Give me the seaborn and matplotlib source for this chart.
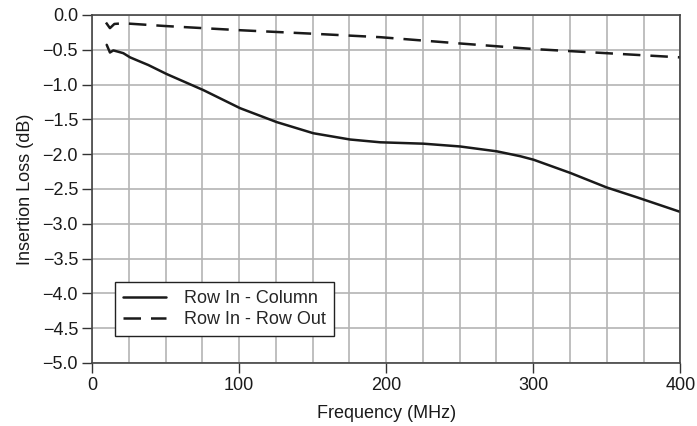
import numpy as np
import pandas as pd
import matplotlib
matplotlib.use("Agg")
import matplotlib.pyplot as plt
import seaborn as sns

col_freq = [10, 12.2, 14.5, 18, 21.3, 25.9, 31.5, 38.3, 50.8, 75.7, 100.7, 125.6, 150.5, 175.5,
            196, 225.4, 250.3, 275.3, 291.2, 300.2, 325.2, 350.1, 370.5, 400]
col_loss = [-0.43, -0.54, -0.51, -0.53, -0.55, -0.61, -0.66, -0.72, -0.85, -1.08, -1.34, -1.54,
            -1.70, -1.79, -1.83, -1.85, -1.89, -1.96, -2.03, -2.08, -2.27, -2.48, -2.62, -2.83]

row_freq = [9.5, 12.2, 15.2, 21.3, 50, 100.7, 150, 196, 250, 300, 350, 400]
row_loss = [-0.11, -0.19, -0.13, -0.12, -0.16, -0.22, -0.27, -0.32, -0.41, -0.49, -0.55, -0.61]

labels = ["Row In - Column", "Row In - Row Out"]

sns.set_style("white", {"xtick.bottom": True, "ytick.left": True})
plt.rcParams['font.family'] = ['Liberation Sans', 'DejaVu Sans']

fig, ax = plt.subplots(figsize=(6.97, 4.26), dpi=100)
fig.subplots_adjust(left=0.132, right=0.976, top=0.965, bottom=0.148)

df1 = pd.DataFrame({"f": col_freq, "l": col_loss})
df2 = pd.DataFrame({"f": row_freq, "l": row_loss})
sns.lineplot(data=df1, x="f", y="l", ax=ax, color="#1a1a1a", lw=1.8, label=labels[0])
sns.lineplot(data=df2, x="f", y="l", ax=ax, color="#1a1a1a", lw=1.8, label=labels[1],
             dashes=False)
ax.lines[1].set_dashes([7, 4])

ax.set_xlim(0, 400)
ax.set_ylim(-5.0, 0.0)
ax.set_xticks([0, 100, 200, 300, 400])
ax.set_xticks(np.arange(0, 401, 25), minor=True)
ax.set_yticks(np.arange(-5.0, 0.01, 0.5))
ax.set_yticklabels([f"{v:.1f}".replace("-", "\u2212") for v in np.arange(-5.0, 0.01, 0.5)])
ax.grid(True, which="both", color="#b4b4b4", lw=1.2)
ax.set_axisbelow(True)
ax.tick_params(axis="both", which="major", direction="out", length=7, width=1,
               color="#333333", labelsize=13, labelcolor="#1a1a1a", pad=3,
               bottom=True, left=True)
ax.tick_params(axis="x", which="minor", length=0)
for s in ax.spines.values():
    s.set_color("#444444")
    s.set_linewidth(1.2)

ax.set_xlabel("Frequency (MHz)", fontsize=13, color="#1a1a1a", labelpad=8)
ax.set_ylabel("Insertion Loss (dB)", fontsize=13, color="#1a1a1a", labelpad=6)

leg = ax.legend(loc="lower left", bbox_to_anchor=(0.039, 0.077), fontsize=13,
                frameon=True, fancybox=False, framealpha=1, edgecolor="#222222",
                handlelength=2.4, handletextpad=1.0, borderpad=0.45, labelspacing=0.2,
                borderaxespad=0)
leg.get_frame().set_linewidth(1.0)

fig.savefig("out.png", dpi=100)
